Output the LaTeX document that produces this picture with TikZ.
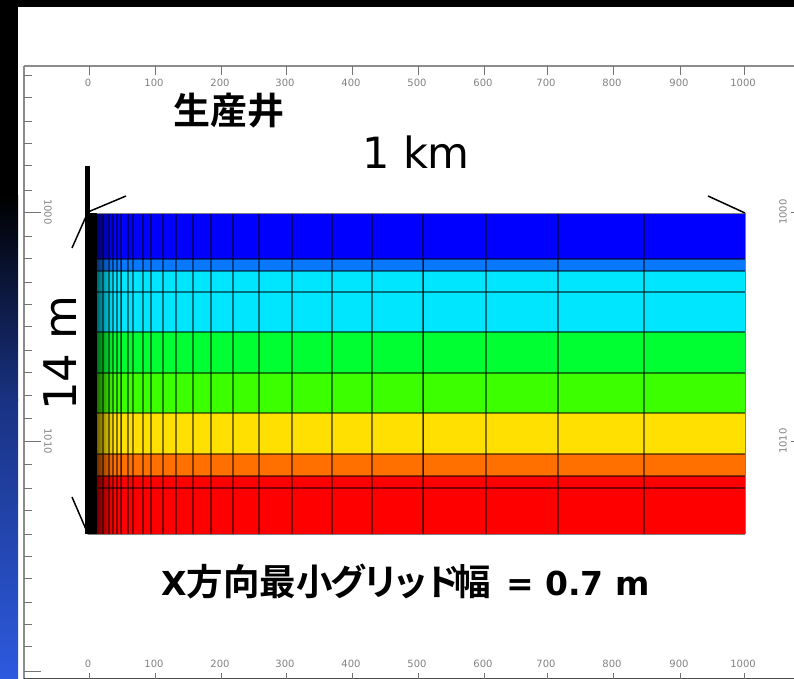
\documentclass[tikz,border=0pt]{standalone}
\usepackage{fontspec}
\usetikzlibrary{fadings}
\setmainfont{DejaVu Sans}
\newfontfamily\cjkb{Noto Sans CJK JP Bold}
\newfontfamily\latb{DejaVu Sans Bold}
\newfontfamily\plain{DejaVu Sans}
\definecolor{cBlue}{RGB}{0,0,255}
\definecolor{cAzure}{RGB}{8,120,255}
\definecolor{cCyan}{RGB}{0,230,255}
\definecolor{cGreenA}{RGB}{0,255,50}
\definecolor{cGreenB}{RGB}{60,255,0}
\definecolor{cYellow}{RGB}{255,224,0}
\definecolor{cOrange}{RGB}{255,112,0}
\definecolor{cRed}{RGB}{255,0,0}
\definecolor{cStrip}{RGB}{45,90,222}
\definecolor{cStripMid}{RGB}{25,50,130}
\definecolor{cAxis}{RGB}{140,140,140}
\definecolor{cAxisTxt}{RGB}{130,130,130}
\tikzset{
  gridline/.style={black,opacity=.5,line width=1.3pt},
  axisline/.style={cAxis,line width=1.2pt},
  tickmark/.style={black!55,line width=1pt},
  ticklabel/.style={text=cAxisTxt,inner sep=0pt,font=\plain\fontsize{10}{10}\selectfont},
  pointer/.style={black,line width=1.5pt},
  bigtxt/.style={inner sep=0pt,font=\plain\fontsize{43}{43}\selectfont},
}
\begin{document}
\begin{tikzpicture}[x=1pt,y=-1pt]
\useasboundingbox (0,0) rectangle (794,679);
% backdrop
\fill[white] (0,0) rectangle (794,679);
\fill[black] (0,0) rectangle (794,7);
\fill[black] (0,0) rectangle (18,196);
\shade[top color=black,bottom color=cStripMid] (0,195) rectangle (18,400);
\shade[top color=cStripMid,bottom color=cStrip] (0,399.5) rectangle (18,679);
% axes
\draw[axisline] (24,66) -- (794,66);
\draw[axisline] (24,66) -- (24,679);
\draw[black!70,line width=1pt] (24,678.5) -- (794,678.5);
\foreach \y in {76,98,122,144,166,190,236,258,282,304,326,350,372,395,418,464,488,510,534,556,578,602,624,646}
  \draw[tickmark] (24,\y) -- (32,\y);
\foreach \y in {212,441,671}
  \draw[tickmark] (24,\y) -- (41,\y);
\foreach \x/\v in {89/0,155/100,221/200,286/300,352/400,418/500,484/600,547/700,613/800,680/900,744/1000}{
  \draw[tickmark] (\x,66) -- (\x,75);
  \draw[tickmark] (\x,673) -- (\x,679);
  \node[ticklabel] (top\v) at (\x-1,83) {\v};
  \node[ticklabel] (bot\v) at (\x-1,664) {\v};
}
\node[ticklabel,rotate=-90] (lefta) at (48,212) {1000};
\node[ticklabel,rotate=-90] (leftb) at (48,441) {1010};
\node[ticklabel,rotate=90] (righta) at (783,212) {1000};
\node[ticklabel,rotate=90] (rightb) at (783,441) {1010};
\draw[tickmark] (791,212) -- (794,212);
\draw[tickmark] (791,441) -- (794,441);
% layers
\foreach \a/\b/\c in {213/259/cBlue,259/271/cAzure,271/332/cCyan,332/373/cGreenA,373/413/cGreenB,413/454/cYellow,454/476/cOrange,476/534/cRed}
  \fill[\c] (88,\a) rectangle (745,\b);
% grid
\foreach \y in {259,271,292,332,373,413,454,476,488}
  \draw[gridline] (88,\y) -- (745,\y);
\foreach \x in {103,109,113,117,121,128,133,143,151,163,176,193,211,233,259,292,332,372,423,486,558,644}
  \draw[gridline] (\x,213) -- (\x,534);
\fill[black,path fading=east,opacity=.55] (97,213) rectangle (113,534);
\draw[black,line width=1pt,opacity=.5] (121,213) -- (121,534);
\draw[black,line width=1pt,opacity=.6] (423,259) -- (423,534);
\draw[black!50,line width=.8pt] (88,213) -- (745,213);
\draw[black!50,line width=.8pt] (745,213) -- (745,534);
\draw[black!50,line width=.8pt] (88,534) -- (745,534);
% well
\fill[black] (85,213) rectangle (97,534);
\coordinate (wellTop) at (87.5,166);
\coordinate (tl) at (88,212);
\coordinate (tr) at (745,213);
\coordinate (bl) at (88,534);
\coordinate (tlA) at (126,196);
\coordinate (tlB) at (72,248);
\coordinate (trA) at (708,196);
\coordinate (blA) at (72,497);
\draw[black,line width=5pt] (wellTop) -- (87.5,213);
\draw[pointer] (tl) -- (tlA);
\draw[pointer] (tl) -- (tlB);
\draw[pointer] (tr) -- (trA);
\draw[pointer] (bl) -- (blA);
% labels
\node[inner sep=0pt,font=\cjkb\fontsize{37}{37}\selectfont] (well) at (229,111) {生産井};
\node[bigtxt] (km) at (416,152) {1 km};
\node[inner sep=0pt,rotate=90,font=\plain\fontsize{45}{45}\selectfont] (depth) at (60,353) {14 m};
\node[inner sep=0pt,anchor=west] (gridw) at (161,581) {{\latb\fontsize{33}{33}\selectfont X}{\cjkb\fontsize{36.5}{36.5}\selectfont 方向最小\kern-2pt グ\kern-5pt リ\kern-6pt ッ\kern-5pt ド\kern-6pt 幅}\kern 15pt{\latb\fontsize{33}{33}\selectfont = 0.7 m}};
\end{tikzpicture}
\end{document}
